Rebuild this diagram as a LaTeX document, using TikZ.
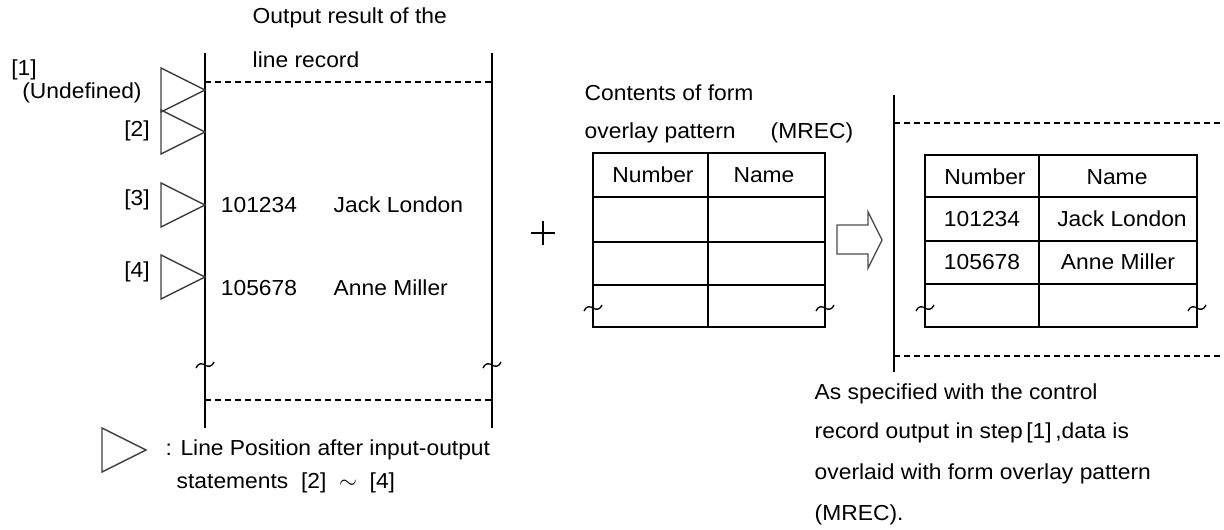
\documentclass[tikz,border=0pt]{standalone}
\usepackage{fontspec}
\setmainfont[FakeStretch=1.05]{Liberation Sans}
\newcommand{\brkmark}[2]{\draw[line width=1pt] ({#1-9},{#2+3}) .. controls ({#1-7},{#2-2}) and ({#1-3},{#2-2}) .. ({#1},{#2}) .. controls ({#1+3},{#2+2}) and ({#1+7},{#2+2}) .. ({#1+9},{#2-3});}
\begin{document}
\begin{tikzpicture}[x=0.75pt,y=-0.75pt,line width=1.1pt,
  txt/.style={inner sep=0pt, font=\fontsize{16.3}{19}\selectfont},
  lbl/.style={txt, anchor=west},
  dline/.style={line width=1pt, dash pattern=on 4.5pt off 3pt},
  tri/.style={draw=black!75, line width=1.1pt},
  blockarrow/.style={draw=black!70, line width=1pt}]
\useasboundingbox (0,0) rectangle (1224,529);

% ---------- left block ----------
\node[lbl] (t1) at (252,18) {Output result of the};
\node[lbl] (t2) at (252,60) {line record};
\draw (205,53) -- (205,428);
\draw (492,53) -- (492,428);
\draw[dline] (205,82) -- (492,82);
\draw[dline] (205,400) -- (492,400);
\brkmark{205}{365}
\brkmark{492}{365}

% triangles
\draw[tri] (161,68) -- (205,90) -- (161,112) -- cycle;
\draw[tri] (161,110) -- (205,132) -- (161,154) -- cycle;
\draw[tri] (161,183) -- (205,205) -- (161,227) -- cycle;
\draw[tri] (161,255) -- (205,277) -- (161,299) -- cycle;

\node[txt] (l1) at (24,70) {[1]};
\node[txt] (und) at (82,93) {(Undefined)};
\node[txt] (l2) at (137,131) {[2]};
\node[txt] (l3) at (137,200) {[3]};
\node[txt] (l4) at (137,272) {[4]};

\node[txt] (n1) at (259,205) {101234};
\node[lbl] (m1) at (333,205) {Jack London};
\node[txt] (n2) at (259,288) {105678};
\node[lbl] (m2) at (333,288) {Anne Miller};

% legend
\draw[tri] (102,428) -- (146,450) -- (102,472) -- cycle;
\node[lbl] (leg1) at (165,450) {: Line Position after input-output};
\node[lbl] (leg2) at (176,483) {statements\ \ [2]\ \ $\sim$\ \ [4]};

% plus
\draw[line width=1.2pt] (531,233) -- (555,233);
\draw[line width=1.2pt] (543,221) -- (543,245);

% ---------- middle table ----------
\node[lbl] (c1) at (584,93) {Contents of form};
\node[lbl] (c2) at (584,133) {overlay pattern};
\node[lbl] (c3) at (770,133) {(MREC)};
\draw (593,153) rectangle (825,327);
\draw (708,153) -- (708,327);
\draw (593,197) -- (825,197);
\draw (593,242) -- (825,242);
\draw (593,285) -- (825,285);
\brkmark{593}{308}
\brkmark{825}{308}
\node[txt] (h1) at (653,175) {Number};
\node[txt] (h2) at (764,175) {Name};

% arrow
\draw[blockarrow] (837,225) -- (868,225) -- (868,212) -- (882,240) -- (868,268) -- (868,254) -- (837,254) -- cycle;

% ---------- right block ----------
\draw (894,95) -- (894,372);
\draw[dline] (894,123) -- (1224,123);
\draw[dline] (894,356) -- (1224,356);
\draw (925,155) rectangle (1197,327);
\draw (1039,155) -- (1039,327);
\draw (925,197) -- (1197,197);
\draw (925,241) -- (1197,241);
\draw (925,284) -- (1197,284);
\brkmark{925}{308}
\brkmark{1197}{308}
\node[txt] (rh1) at (985,177) {Number};
\node[txt] (rh2) at (1117,177) {Name};
\node[txt] (rn1) at (982,219) {101234};
\node[txt] (rm1) at (1122,219) {Jack London};
\node[txt] (rn2) at (982,262) {105678};
\node[txt] (rm2) at (1118,262) {Anne Miller};

\node[lbl] (d1) at (814,394) {As specified with the control};
\node[lbl] (d2) at (814,433) {record output in step\,[1]\,,data is};
\node[lbl] (d3) at (814,474) {overlaid with form overlay pattern};
\node[lbl] (d4) at (814,515) {(MREC).};
\end{tikzpicture}
\end{document}
